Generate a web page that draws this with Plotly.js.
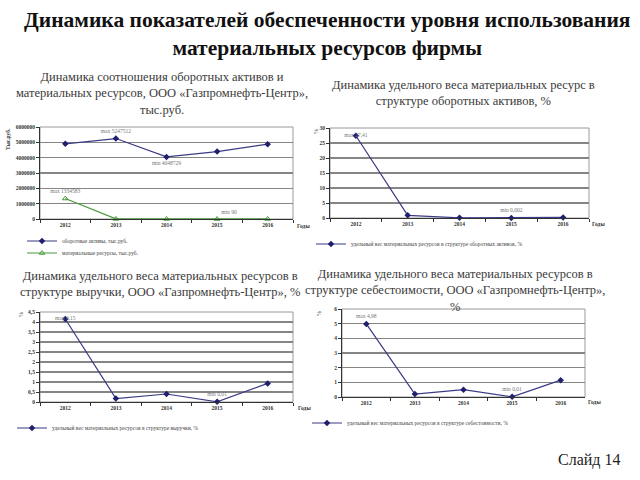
<!DOCTYPE html>
<html><head><meta charset="utf-8">
<script src="https://cdn.plot.ly/plotly-3.0.1.min.js"></script>
<style>html,body{margin:0;padding:0;background:#fff}#chart{width:640px;height:480px}</style>
</head><body><div id="chart"></div>
<script>
// ---------- data ----------
const years = ['2012', '2013', '2014', '2015', '2016'];
const currentAssets = [4900000, 5247512, 4048729, 4400000, 4880000];
const materialResources = [1334583, 5000, 3000, 90, 2000];
const shareInAssets = [27.41, 0.9, 0.05, 0.002, 0.2];
const shareInRevenue = [4.15, 0.17, 0.4, 0.01, 0.93];
const shareInCost = [4.98, 0.2, 0.5, 0.01, 1.15];

const labelsAssets = ['', 'max 5247512', 'min 4048729', '', ''];
const labelsMaterials = ['max 1334583', '', '', 'min 90', ''];
const labelsShareAssets = ['max 27,41', '', '', 'min 0,002', ''];
const labelsShareRevenue = ['max 4,15', '', '', 'min 0,01', ''];
const labelsShareCost = ['max 4,98', '', '', 'min 0,01', ''];

const seriesNames = [
  'оборотные активы, тыс.руб.',
  'материальные ресурсы, тыс.руб.',
  'удельный вес материальных ресурсов в структуре оборотных активов, %',
  'удельный вес материальных ресурсов в структуре выручки, %',
  'удельный вес материальных ресурсов в структуре себестоимости, %'
];

const mainTitle = 'Динамика показателей обеспеченности уровня использования<br>материальных ресурсов фирмы';
const subTitles = [
  'Динамика соотношения оборотных активов и<br>материальных ресурсов, ООО «Газпромнефть-Центр»,<br>тыс.руб.',
  'Динамика удельного веса материальных ресурс в<br>структуре оборотных активов, %',
  'Динамика удельного веса материальных ресурсов в<br>структуре выручки, ООО «Газпромнефть-Центр», %',
  'Динамика удельного веса материальных ресурсов в<br>структуре себестоимости, ООО «Газпромнефть-Центр»,<br>%'
];
const slideLabel = 'Слайд 14';
const xTitle = 'Годы';
const yTitles = ['Тыс.руб.', '%', '%', '%'];

// ---------- styling ----------
const W = 640, H = 480;
const px = v => v / W;
const py = v => 1 - v / H;
const SERIF = 'Liberation Serif';
const NAVY = '#3a3a86';
const GREEN = '#4a9a3c';
const LBL = {family: SERIF, size: 5.5, color: '#777'};

function line(x, y, name, xa, ya, legend, text, tpos, color, marker) {
  return {
    type: 'scatter', mode: 'lines+markers+text', x: x, y: y, name: name,
    xaxis: xa, yaxis: ya, legend: legend, text: text, textposition: tpos,
    textfont: LBL, cliponaxis: false,
    line: {color: color, width: 1.2},
    marker: marker, hoverinfo: 'skip'
  };
}
const dia = {symbol: 'diamond', size: 5, color: '#1f1f6e'};
const tri = {symbol: 'triangle-up-open', size: 5, color: GREEN, line: {width: 1, color: GREEN}};

const data = [
  line(years, currentAssets, seriesNames[0], 'x', 'y', 'legend', labelsAssets,
       ['top center', 'top center', 'bottom center', 'top center', 'top center'], NAVY, dia),
  line(years, materialResources, seriesNames[1], 'x', 'y', 'legend2', labelsMaterials,
       ['top center', 'top center', 'top center', 'top right', 'top center'], GREEN, tri),
  line(years, shareInAssets, seriesNames[2], 'x2', 'y2', 'legend3', labelsShareAssets,
       ['middle center', 'top center', 'top center', 'top center', 'top center'], NAVY, dia),
  line(years, shareInRevenue, seriesNames[3], 'x3', 'y3', 'legend4', labelsShareRevenue,
       ['middle center', 'top center', 'top center', 'top center', 'top center'], NAVY, dia),
  line(years, shareInCost, seriesNames[4], 'x4', 'y4', 'legend5', labelsShareCost,
       ['top center', 'top center', 'top center', 'top center', 'top center'], NAVY, dia)
];

function xax(domain, anchor) {
  return {
    domain: domain, anchor: anchor, type: 'category', range: [-0.5, 4.5],
    showgrid: false, showline: true, linecolor: '#333', linewidth: 1,
    ticks: 'outside', ticklen: 3, tickcolor: '#333', tickson: 'boundaries',
    tickfont: {family: SERIF, size: 5.5, color: '#333', weight: 'bold'},
    fixedrange: true
  };
}
function yax(domain, anchor, range, dtick, fmt) {
  return {
    domain: domain, anchor: anchor, range: range, dtick: dtick, tick0: 0,
    tickformat: fmt, showgrid: true, gridcolor: '#858585', gridwidth: 1.5,
    zeroline: false, showline: true, linecolor: '#333', linewidth: 1,
    ticks: 'outside', ticklen: 3, tickcolor: '#333',
    tickfont: {family: SERIF, size: 5.5, color: '#333', weight: 'bold'},
    fixedrange: true
  };
}

const d1x = [px(40), px(293)], d1y = [py(219), py(127)];
const d2x = [px(330), px(589)], d2y = [py(218), py(128)];
const d3x = [px(40), px(293)], d3y = [py(402), py(312)];
const d4x = [px(342), px(585)], d4y = [py(397), py(309)];

function legend(xp, yp) {
  return {
    x: px(xp), y: py(yp), xanchor: 'left', yanchor: 'middle',
    bgcolor: 'rgba(0,0,0,0)', borderwidth: 0,
    font: {family: SERIF, size: 5.5, color: '#444'},
    itemwidth: 30, tracegroupgap: 0
  };
}

function ann(text, xp, yp, size, opts) {
  return Object.assign({
    text: text, xref: 'paper', yref: 'paper', x: px(xp), y: py(yp),
    xanchor: 'center', yanchor: 'middle', showarrow: false,
    font: {family: SERIF, size: size, color: '#3a3a3a'}
  }, opts || {});
}

const annotations = [
  ann(mainTitle, 327, 34, 21.5, {font: {family: SERIF, size: 21.5, color: '#111', weight: 'bold'}}),
  ann(subTitles[0], 162, 94, 12.5),
  ann(subTitles[1], 463, 93, 12.5),
  ann(subTitles[2], 160, 284, 12.5),
  ann(subTitles[3], 455, 290, 12.5),
  ann(slideLabel, 589, 460, 16, {font: {family: SERIF, size: 16, color: '#222'}}),
  ann(xTitle, 303, 226, 5.5, {font: {family: SERIF, size: 5.5, color: '#333', weight: 'bold'}}),
  ann(xTitle, 598, 224, 5.5, {font: {family: SERIF, size: 5.5, color: '#333', weight: 'bold'}}),
  ann(xTitle, 304, 408, 5.5, {font: {family: SERIF, size: 5.5, color: '#333', weight: 'bold'}}),
  ann(xTitle, 594, 402, 5.5, {font: {family: SERIF, size: 5.5, color: '#333', weight: 'bold'}}),
  ann(yTitles[0], 8, 139, 5.5, {textangle: -90, font: {family: SERIF, size: 5.5, color: '#333', weight: 'bold'}}),
  ann(yTitles[1], 316, 132, 6, {textangle: -90}),
  ann(yTitles[2], 21, 315, 6, {textangle: -90}),
  ann(yTitles[3], 319, 314, 6, {textangle: -90})
];

function box(xa, ya) {
  return {type: 'rect', xref: xa + ' domain', yref: ya + ' domain', x0: 0, x1: 1, y0: 0, y1: 1,
          line: {color: '#9a9a9a', width: 1}, layer: 'below'};
}

const layout = {
  width: W, height: H, margin: {l: 0, r: 0, t: 0, b: 0},
  paper_bgcolor: '#fff', plot_bgcolor: '#fff',
  separators: ', ', showlegend: true,
  xaxis: xax(d1x, 'y'), yaxis: yax(d1y, 'x', [0, 6000000], 1000000, 'd'),
  xaxis2: xax(d2x, 'y2'), yaxis2: yax(d2y, 'x2', [0, 30], 5, ''),
  xaxis3: xax(d3x, 'y3'), yaxis3: yax(d3y, 'x3', [0, 4.5], 0.5, ''),
  xaxis4: xax(d4x, 'y4'), yaxis4: yax(d4y, 'x4', [0, 6], 1, ''),
  legend: legend(22, 241), legend2: legend(22, 253),
  legend3: legend(311, 244), legend4: legend(12, 428), legend5: legend(307, 423),
  annotations: annotations,
  shapes: [box('x', 'y'), box('x2', 'y2'), box('x3', 'y3'), box('x4', 'y4')]
};

Plotly.newPlot('chart', data, layout, {staticPlot: true, displayModeBar: false});
</script>
</body></html>
